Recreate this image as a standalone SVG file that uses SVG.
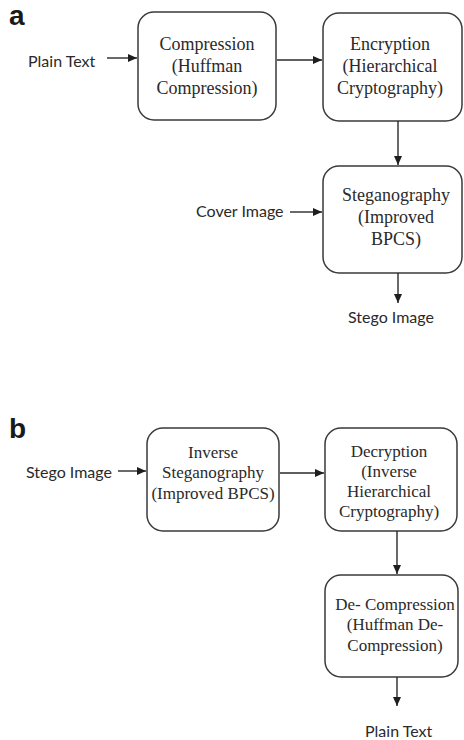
<svg xmlns="http://www.w3.org/2000/svg" width="464" height="740" viewBox="0 0 464 740">
<defs>
<marker id="ah" markerWidth="10" markerHeight="9" refX="9" refY="4" orient="auto" markerUnits="userSpaceOnUse">
<path d="M0,0 L9,4 L0,8 z" fill="#1e1e1e"/>
</marker>
<style>
.box{fill:#fff;stroke:#3a3a3a;stroke-width:1.5}
.serif{font-family:"Liberation Serif","Times New Roman",serif;fill:#2a2a2a;text-anchor:middle}
.a18{font-size:18px}
.b17{font-size:17px}
.sans{font-family:Lato,"Liberation Sans",sans-serif;font-size:16px;fill:#2a2a2a}
.lbl{font-family:"Liberation Sans",Arial,sans-serif;font-size:28px;font-weight:bold;fill:#1a1a1a}
.conn line{stroke:#2a2a2a;stroke-width:1.4;marker-end:url(#ah)}
</style>
</defs>
<rect width="464" height="740" fill="#fff"/>
<text class="lbl" x="9" y="25">a</text>
<text class="lbl" x="9" y="438">b</text>

<g id="in-plain"><text class="sans" x="28" y="67">Plain Text</text></g>
<g id="compression">
<rect class="box" x="138" y="12" width="138" height="108" rx="16"/>
<text class="serif a18" x="207" y="50">Compression</text>
<text class="serif a18" x="207" y="72">(Huffman</text>
<text class="serif a18" x="207" y="94">Compression)</text>
</g>
<g id="encryption">
<rect class="box" x="323" y="13" width="139" height="108" rx="16"/>
<text class="serif a18" x="390" y="50">Encryption</text>
<text class="serif a18" x="390" y="72">(Hierarchical</text>
<text class="serif a18" x="390" y="94">Cryptography)</text>
</g>
<g id="steganography">
<rect class="box" x="323" y="166" width="139" height="107" rx="16"/>
<text class="serif a18" x="396" y="201">Steganography</text>
<text class="serif a18" x="396" y="223">(Improved</text>
<text class="serif a18" x="396" y="245">BPCS)</text>
</g>
<g id="cover"><text class="sans" x="196" y="217">Cover Image</text></g>
<g id="out-stego"><text class="sans" x="348" y="323">Stego Image</text></g>

<g id="in-stego"><text class="sans" x="26" y="478">Stego Image</text></g>
<g id="inv-steg">
<rect class="box" x="147" y="428" width="132" height="103" rx="16"/>
<text class="serif b17" x="213" y="458">Inverse</text>
<text class="serif b17" x="213" y="478">Steganography</text>
<text class="serif b17" x="213" y="499">(Improved BPCS)</text>
</g>
<g id="decryption">
<rect class="box" x="325" y="428" width="132" height="103" rx="16"/>
<text class="serif b17" x="389" y="457">Decryption</text>
<text class="serif b17" x="389" y="477">(Inverse</text>
<text class="serif b17" x="389" y="497">Hierarchical</text>
<text class="serif b17" x="389" y="517">Cryptography)</text>
</g>
<g id="decompression">
<rect class="box" x="325" y="575" width="133" height="102" rx="16"/>
<text class="serif b17" x="395" y="610">De- Compression</text>
<text class="serif b17" x="395" y="630">(Huffman De-</text>
<text class="serif b17" x="395" y="651">Compression)</text>
</g>
<g id="out-plain"><text class="sans" x="365" y="737">Plain Text</text></g>

<g id="connectors" class="conn">
<line x1="107" y1="58" x2="137" y2="58"/>
<line x1="277" y1="60" x2="322" y2="60"/>
<line x1="398" y1="121" x2="398" y2="165"/>
<line x1="290" y1="212" x2="322" y2="212"/>
<line x1="398" y1="273" x2="398" y2="303"/>
<line x1="118" y1="471" x2="146" y2="471"/>
<line x1="280" y1="473" x2="324" y2="473"/>
<line x1="397" y1="531" x2="397" y2="574"/>
<line x1="397" y1="677" x2="397" y2="706"/>
</g>
</svg>
